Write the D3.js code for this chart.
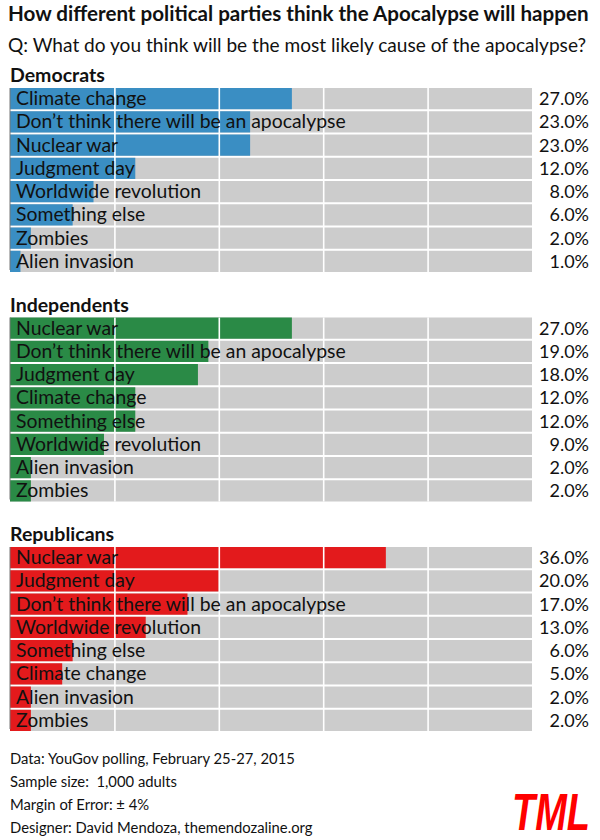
<!DOCTYPE html>
<html><head><meta charset="utf-8">
<script src="https://cdn.jsdelivr.net/npm/d3@7"></script>
<style>body{margin:0;background:#fff}svg{display:block}text{font-family:Lato,"Open Sans",sans-serif;fill:#111;white-space:pre}</style>
</head><body>
<script>
const title = "How different political parties think the Apocalypse will happen";
const subtitle = "Q: What do you think will be the most likely cause of the apocalypse?";
const groups = ["Democrats", "Independents", "Republicans"];
const groupColors = ["#3a8ec3", "#2a8a46", "#e31a1c"];
const demCauses = ["Climate change", "Don\u2019t think there will be an apocalypse", "Nuclear war", "Judgment day", "Worldwide revolution", "Something else", "Zombies", "Alien invasion"];
const demValues = [27, 23, 23, 12, 8, 6, 2, 1];
const indCauses = ["Nuclear war", "Don\u2019t think there will be an apocalypse", "Judgment day", "Climate change", "Something else", "Worldwide revolution", "Alien invasion", "Zombies"];
const indValues = [27, 19, 18, 12, 12, 9, 2, 2];
const repCauses = ["Nuclear war", "Judgment day", "Don\u2019t think there will be an apocalypse", "Worldwide revolution", "Something else", "Climate change", "Alien invasion", "Zombies"];
const repValues = [36, 20, 17, 13, 6, 5, 2, 2];
const gridTicks = [10, 20, 30, 40];
const footerLines = ["Data: YouGov polling, February 25-27, 2015", "Sample size:  1,000 adults", "Margin of Error: \u00b1 4%", "Designer: David Mendoza, themendozaline.org"];
const logo = "TML";

const W = 600, H = 840;
const svg = d3.select("body").append("svg").attr("width", W).attr("height", H);
svg.append("rect").attr("width", W).attr("height", H).attr("fill", "#fff");

svg.append("text").attr("x", 8).attr("y", 21).attr("font-size", 20.6).attr("font-weight", "bold").text(title);
svg.append("text").attr("x", 8).attr("y", 52).attr("font-size", 19.1).text(subtitle);

const x = d3.scaleLinear().domain([0, 50]).range([10, 532]);
const data = [
  {causes: demCauses, values: demValues},
  {causes: indCauses, values: indValues},
  {causes: repCauses, values: repValues}
];
const groupTops = [88, 317.5, 547];
const rowPitch = 23;

data.forEach((g, gi) => {
  const top = groupTops[gi];
  const y = d3.scaleBand().domain(g.causes).range([top, top + rowPitch * g.causes.length]).paddingInner(2 / 23).paddingOuter(0);
  const gg = svg.append("g");
  gg.append("text").attr("x", 10).attr("y", top - 6).attr("font-size", 19.5).attr("font-weight", "bold").text(groups[gi]);
  gg.selectAll("rect.bg").data(g.causes).join("rect").attr("class", "bg")
    .attr("x", x(0)).attr("y", d => y(d)).attr("width", x(50) - x(0)).attr("height", y.bandwidth()).attr("fill", "#cccccc");
  gg.selectAll("rect.bar").data(g.causes).join("rect").attr("class", "bar")
    .attr("x", x(0)).attr("y", d => y(d)).attr("width", (d, i) => x(g.values[i]) - x(0)).attr("height", y.bandwidth()).attr("fill", groupColors[gi]);
  const ax = d3.axisTop(x).tickValues(gridTicks).tickSize(-(rowPitch * g.causes.length)).tickFormat("");
  const axg = gg.append("g").attr("transform", `translate(0,${top})`).call(ax);
  axg.select(".domain").remove();
  axg.selectAll(".tick line").attr("stroke", "#fff").attr("stroke-width", 1.6);
  gg.append("line").attr("x1", x(0)).attr("x2", x(0)).attr("y1", top).attr("y2", top + rowPitch * g.causes.length - 2)
    .attr("stroke", "#777").attr("stroke-width", 1);
  gg.selectAll("text.lab").data(g.causes).join("text").attr("class", "lab")
    .attr("x", 16).attr("y", d => y(d) + y.bandwidth() / 2 + 6.5).attr("font-size", 19.4).text(d => d);
  gg.selectAll("text.val").data(g.causes).join("text").attr("class", "val")
    .attr("x", 589).attr("y", d => y(d) + y.bandwidth() / 2 + 6.5).attr("font-size", 18).attr("text-anchor", "end")
    .text((d, i) => d3.format(".1f")(g.values[i]) + "%");
});

svg.selectAll("text.foot").data(footerLines).join("text").attr("class", "foot")
  .attr("x", 10).attr("y", (d, i) => 764 + i * 23).attr("font-size", 14.8).text(d => d);

svg.append("text").attr("transform", "translate(590,830) scale(0.73,1)").attr("text-anchor", "end")
  .style("font-family", "'Liberation Sans',Arial,sans-serif")
  .attr("font-size", 52).attr("font-weight", "bold").attr("font-style", "italic").style("fill", "#ff0000").text(logo);
</script>
</body></html>
